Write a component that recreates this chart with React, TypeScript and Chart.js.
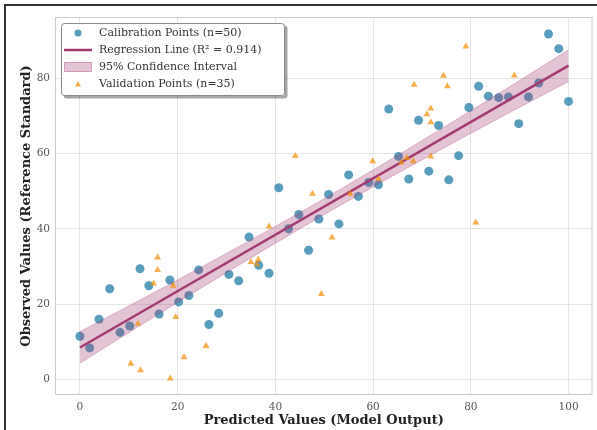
import React, { useEffect, useRef } from 'react';
import { Chart, registerables } from 'chart.js';

Chart.register(...registerables);

// Calibration points (n=50)
const calX = [0, 2.0, 3.9, 6.1, 8.2, 10.2, 12.3, 14.1, 16.2, 18.4, 20.2, 22.3, 24.3, 26.4, 28.4, 30.5, 32.5, 34.6, 36.6, 38.7, 40.7, 42.7, 44.8, 46.8, 48.9, 50.9, 53.0, 55.0, 57.0, 59.1, 61.1, 63.2, 65.2, 67.3, 69.3, 71.4, 73.4, 75.5, 77.5, 79.6, 81.6, 83.6, 85.7, 87.7, 89.8, 91.8, 93.9, 95.9, 98.0, 100];
const calY = [11.5, 8.4, 16.0, 24.1, 12.5, 14.2, 29.4, 24.9, 17.4, 26.4, 20.6, 22.3, 29.1, 14.6, 17.6, 27.9, 26.2, 37.8, 30.3, 28.2, 50.9, 40.0, 43.8, 34.3, 42.6, 49.1, 41.3, 54.3, 48.6, 52.3, 51.7, 71.8, 59.2, 53.2, 68.8, 55.3, 67.4, 53.0, 59.4, 72.2, 77.8, 75.2, 74.8, 75.0, 67.9, 75.0, 78.7, 91.7, 87.8, 73.8];

// Validation points (n=35)
const valX = [15.9, 15.9, 15.1, 19.1, 11.9, 19.6, 10.4, 12.4, 18.5, 21.3, 25.8, 44.1, 59.9, 61.1, 47.6, 55.3, 38.7, 51.6, 35.0, 36.5, 36.2, 49.4, 79.0, 88.9, 74.4, 68.4, 75.2, 71.8, 71.0, 71.8, 71.8, 66.9, 68.2, 81.0, 65.8];
const valY = [32.4, 29.1, 25.5, 24.9, 14.8, 16.6, 4.2, 2.5, 0.3, 5.9, 8.9, 59.3, 57.9, 53.2, 49.3, 49.3, 40.6, 37.7, 31.2, 31.8, 30.6, 22.7, 88.4, 80.7, 80.6, 78.2, 77.8, 71.9, 70.4, 68.3, 59.2, 58.8, 57.9, 41.7, 57.6];

// Regression line
const regX = [0, 100];
const regY = [8.5, 83.3];

// 95% confidence band
const bandX = [0, 12.5, 25, 37.5, 50, 62.5, 75, 87.5, 100];
const bandUpper = [12.7, 21.25, 29.95, 38.85, 48.0, 57.55, 67.35, 77.35, 87.5];
const bandLower = [4.3, 14.45, 24.45, 34.25, 43.8, 52.95, 61.85, 70.55, 79.1];

const xTicks = [0, 20, 40, 60, 80, 100];
const yTicks = [0, 20, 40, 60, 80];

const legendLabels = [
  'Calibration Points (n=50)',
  'Regression Line (R\u00B2 = 0.914)',
  '95% Confidence Interval',
  'Validation Points (n=35)',
];

const FONT = "'DejaVu Serif', serif";
const BLUE = 'rgba(46,134,171,0.8)';
const MAGENTA = '#A23B72';
const BAND = 'rgba(162,59,114,0.3)';
const ORANGE = 'rgba(241,143,1,0.7)';

const framePlugin = {
  id: 'frameAndLegend',
  afterDatasetsDraw(chart: any) {
    const { ctx, chartArea } = chart;
    ctx.save();
    ctx.strokeStyle = '#cccccc';
    ctx.lineWidth = 1;
    ctx.strokeRect(chartArea.left + 0.5, chartArea.top + 0.5, chartArea.right - chartArea.left - 1, chartArea.bottom - chartArea.top - 1);

    // legend box
    const bx = 61, by = 23, bw = 224, bh = 73;
    ctx.fillStyle = 'rgba(0,0,0,0.35)';
    ctx.beginPath();
    ctx.roundRect(bx + 2.5, by + 2.5, bw, bh, 3);
    ctx.fill();
    ctx.fillStyle = '#ffffff';
    ctx.beginPath();
    ctx.roundRect(bx, by, bw, bh, 3);
    ctx.fill();
    ctx.strokeStyle = '#8a8a8a';
    ctx.lineWidth = 1;
    ctx.beginPath();
    ctx.roundRect(bx + 0.5, by + 0.5, bw - 1, bh - 1, 3);
    ctx.stroke();

    const rows = [33, 50, 67, 84];
    const mx = 78;
    // circle
    ctx.fillStyle = BLUE;
    ctx.beginPath();
    ctx.arc(mx, rows[0], 3.5, 0, Math.PI * 2);
    ctx.fill();
    // line
    ctx.strokeStyle = MAGENTA;
    ctx.lineWidth = 2.5;
    ctx.beginPath();
    ctx.moveTo(64, rows[1]);
    ctx.lineTo(92, rows[1]);
    ctx.stroke();
    // rect
    ctx.fillStyle = BAND;
    ctx.fillRect(64, rows[2] - 5, 28, 10);
    ctx.strokeStyle = BAND;
    ctx.lineWidth = 1;
    ctx.strokeRect(64.5, rows[2] - 4.5, 27, 9);
    // triangle
    ctx.fillStyle = ORANGE;
    ctx.beginPath();
    ctx.moveTo(mx, rows[3] - 3);
    ctx.lineTo(mx + 3, rows[3] + 2.5);
    ctx.lineTo(mx - 3, rows[3] + 2.5);
    ctx.closePath();
    ctx.fill();

    ctx.fillStyle = '#333333';
    ctx.font = `11px ${FONT}`;
    ctx.textBaseline = 'middle';
    ctx.textAlign = 'left';
    legendLabels.forEach((t, i) => ctx.fillText(t, 99, rows[i]));
    ctx.restore();
  },
};

export default function App() {
  const canvasRef = useRef<HTMLCanvasElement>(null);

  useEffect(() => {
    document.body.style.margin = '0';
    const canvas = canvasRef.current;
    if (!canvas) return;
    const chart = new Chart(canvas, {
      type: 'scatter',
      data: {
        datasets: [
          {
            label: legendLabels[0],
            data: calX.map((x, i) => ({ x, y: calY[i] })),
            backgroundColor: BLUE,
            borderWidth: 0,
            pointRadius: 4.5,
            order: 5,
          },
          {
            type: 'line',
            label: legendLabels[1],
            data: regX.map((x, i) => ({ x, y: regY[i] })),
            borderColor: MAGENTA,
            borderWidth: 2.5,
            pointRadius: 0,
            fill: false,
            order: 4,
          },
          {
            type: 'line',
            label: 'upper',
            data: bandX.map((x, i) => ({ x, y: bandUpper[i] })),
            borderColor: BAND,
            borderWidth: 1,
            backgroundColor: BAND,
            pointRadius: 0,
            fill: '+1',
            order: 3,
          },
          {
            type: 'line',
            label: 'lower',
            data: bandX.map((x, i) => ({ x, y: bandLower[i] })),
            borderColor: BAND,
            borderWidth: 1,
            pointRadius: 0,
            fill: false,
            order: 3,
          },
          {
            label: legendLabels[3],
            data: valX.map((x, i) => ({ x, y: valY[i] })),
            backgroundColor: ORANGE,
            borderWidth: 0,
            pointStyle: 'triangle',
            pointRadius: 4,
            order: 1,
          },
        ],
      } as any,
      options: {
        animation: false,
        responsive: false,
        maintainAspectRatio: false,
        layout: { padding: { top: 17, right: 4, left: 0, bottom: 0 } },
        plugins: { legend: { display: false }, tooltip: { enabled: false } },
        scales: {
          x: {
            type: 'linear',
            min: -5.1,
            max: 104.9,
            afterBuildTicks: (s: any) => { s.ticks = xTicks.map((v) => ({ value: v })); },
            afterFit: (s: any) => { s.height = 35; },
            grid: { color: '#e6e6e6', drawTicks: false },
            border: { display: false },
            ticks: { font: { family: FONT, size: 10.5 }, color: '#555555', padding: 6 },
            title: {
              display: true,
              text: 'Predicted Values (Model Output)',
              font: { family: FONT, size: 13, weight: 'bold' },
              color: '#222222',
              padding: { top: 0, bottom: 2 },
            },
          },
          y: {
            type: 'linear',
            min: -4.1,
            max: 96.2,
            afterBuildTicks: (s: any) => { s.ticks = yTicks.map((v) => ({ value: v })); },
            afterFit: (s: any) => { s.width = 55; },
            grid: { color: '#e6e6e6', drawTicks: false },
            border: { display: false },
            ticks: { font: { family: FONT, size: 10.5 }, color: '#555555', padding: 5 },
            title: {
              display: true,
              text: 'Observed Values (Reference Standard)',
              font: { family: FONT, size: 13, weight: 'bold' },
              color: '#222222',
              padding: { top: 19, bottom: 0 },
            },
          },
        },
      } as any,
      plugins: [framePlugin],
    });
    return () => chart.destroy();
  }, []);

  return (
    <div style={{ position: 'relative', width: 597, height: 430, background: '#fff' }}>
      <canvas ref={canvasRef} width={597} height={430} style={{ display: 'block' }} />
      <div
        style={{
          position: 'absolute',
          left: 4,
          top: 4,
          right: 0,
          bottom: 0,
          borderLeft: '2px solid #333',
          borderTop: '2px solid #333',
          pointerEvents: 'none',
        }}
      />
    </div>
  );
}
